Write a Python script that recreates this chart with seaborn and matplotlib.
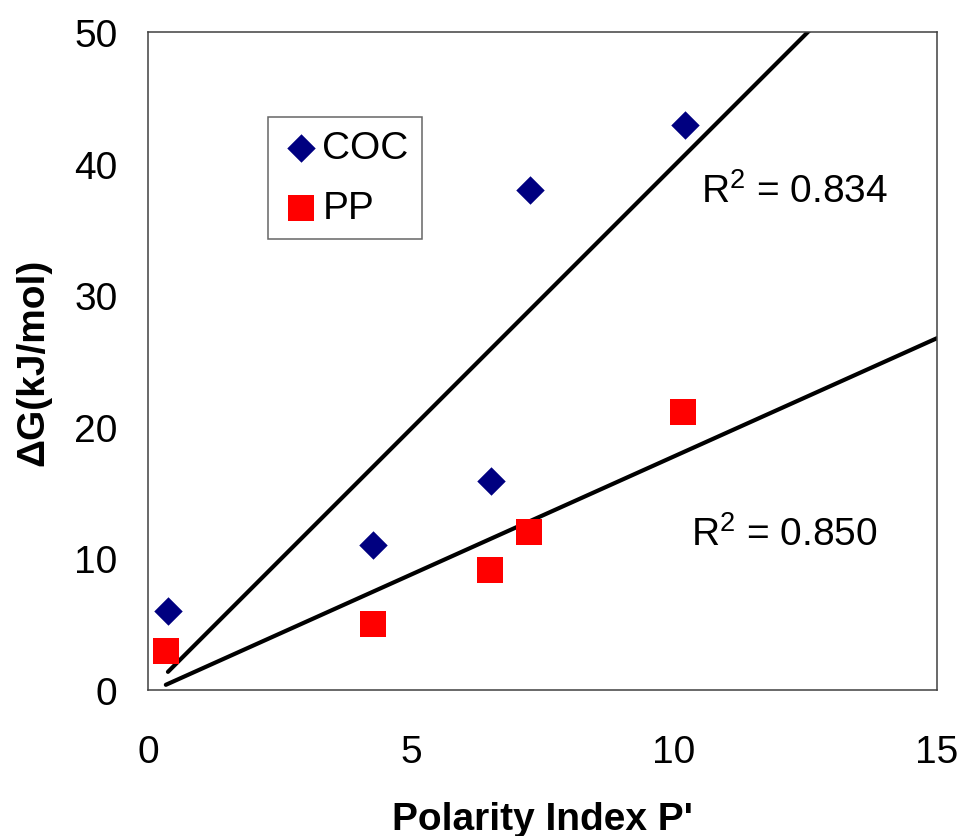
import numpy as np
import pandas as pd
import matplotlib
matplotlib.use("Agg")
import matplotlib.pyplot as plt
import seaborn as sns

# Data
coc_x = [0.38, 4.28, 6.52, 7.26, 10.21]
coc_y = [6.0, 11.0, 15.9, 38.0, 42.9]
pp_x = [0.34, 4.28, 6.50, 7.24, 10.18]
pp_y = [3.0, 5.0, 9.1, 12.0, 21.1]
series_names = ["COC", "PP"]
r2_labels = ["0.834", "0.850"]
x_ticks = [0, 5, 10, 15]
y_ticks = [0, 10, 20, 30, 40, 50]

sns.set_style("white")
plt.rcParams["font.family"] = ["Liberation Sans", "DejaVu Sans"]
plt.rcParams["mathtext.default"] = "regular"
plt.rcParams["text.color"] = "black"
plt.rcParams["axes.labelcolor"] = "black"

FS = 28

fig = plt.figure(figsize=(9.62, 8.37), dpi=100)
ax = fig.add_axes([0.1538, 0.1744, 0.974 - 0.1538, 0.9606 - 0.1744])

df_coc = pd.DataFrame({"x": coc_x, "y": coc_y, "s": series_names[0]})
df_pp = pd.DataFrame({"x": pp_x, "y": pp_y, "s": series_names[1]})

# Trend lines (least squares), forecast forward to x = 15
for xs, ys in [(coc_x, coc_y), (pp_x, pp_y)]:
    k, b = np.polyfit(xs, ys, 1)
    lx = np.array([min(xs), 15.0])
    sns.lineplot(x=lx, y=k * lx + b, ax=ax, color="black", lw=3.0,
                 legend=False, zorder=2)

sns.scatterplot(data=df_coc, x="x", y="y", marker="D", s=210, color="#000080",
                linewidth=0, ax=ax, label=series_names[0], zorder=3)
sns.scatterplot(data=df_pp, x="x", y="y", marker="s", s=360, color="#FF0000",
                linewidth=0, ax=ax, label=series_names[1], zorder=3)

ax.set_xlim(0, 15)
ax.set_ylim(0, 50)
ax.set_xticks(x_ticks)
ax.set_yticks(y_ticks)
ax.tick_params(axis="both", direction="in", length=9, width=1.1, color="#404040",
               labelsize=FS, labelcolor="black")
ax.tick_params(axis="y", pad=22)
ax.tick_params(axis="x", pad=32)
for sp in ax.spines.values():
    sp.set_color("#404040")
    sp.set_linewidth(1.1)
    sp.set_visible(True)

ax.set_xlabel("Polarity Index P'", fontsize=FS, fontweight="bold", labelpad=22,
              color="black")
ax.set_ylabel("ΔG(kJ/mol)", fontsize=FS, fontweight="bold", labelpad=16,
              color="black")

ax.text(12.3, 37.9, "R$^2$ = " + r2_labels[0], fontsize=FS, ha="center", va="center")
ax.text(12.1, 11.85, "R$^2$ = " + r2_labels[1], fontsize=FS, ha="center", va="center")

leg = ax.legend(loc="upper left", bbox_to_anchor=(0.152, 0.871), fontsize=FS,
                frameon=True, fancybox=False, edgecolor="#404040",
                handletextpad=0.05, handlelength=1.0, borderpad=0.35,
                labelspacing=0.6, borderaxespad=0)
leg.get_frame().set_linewidth(1.1)
for t in leg.get_texts():
    t.set_color("black")

fig.savefig("out.png", dpi=100)
